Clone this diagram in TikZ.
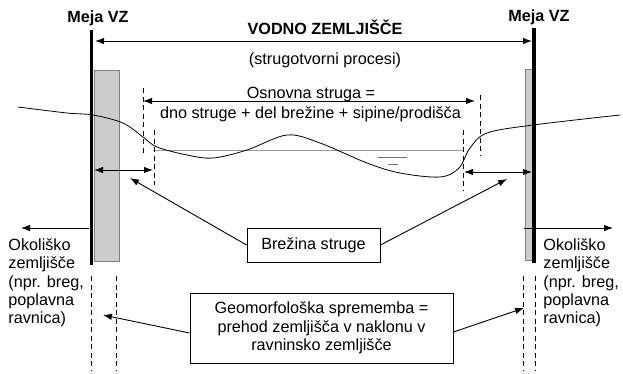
\documentclass[tikz,border=0pt]{standalone}
\usepackage{fontspec}
\setmainfont{Liberation Sans}
\usetikzlibrary{arrows.meta}

\begin{document}
\begin{tikzpicture}[x=1pt,y=-1pt,line width=0.9pt,>={Latex[length=9pt,width=6.5pt]},
    font=\fontsize{16.2}{18.4}\selectfont]
    \tikzstyle{bar}=[line width=3.6pt]
    \tikzstyle{bank}=[draw=gray,fill=gray!40,line width=0.6pt]
    \tikzstyle{limit}=[line width=0.8pt,dash pattern=on 5pt off 3.5pt]
    \tikzstyle{label}=[inner sep=0pt,anchor=base]
    \tikzstyle{box}=[draw,rectangle,line width=0.8pt,align=center,inner sep=0pt]
    \tikzstyle{annot}=[inner sep=0pt,anchor=north west,align=left]

    \useasboundingbox (0,0) rectangle (623,373);

    % Banks and boundaries of the water land
    \draw[bank] (94,70) rectangle (119,261);
    \draw[bank] (525,69) rectangle (532,260);
    \coordinate (lbar-top) at (91.5,30);
    \coordinate (lbar-bot) at (91.5,265);
    \coordinate (rbar-top) at (534,28);
    \coordinate (rbar-bot) at (534,263);
    \draw[bar] (lbar-top) -- (lbar-bot);
    \draw[bar] (rbar-top) -- (rbar-bot);

    % Ground profile and water level
    \draw[gray!80,line width=0.7pt] (153,150) -- (464,150);
    \draw[gray!90!black,line width=0.8pt] (378,157) -- (407,157) (388,164) -- (398,164);
    \draw[line width=0.8pt] plot[smooth,tension=0.55] coordinates {(18,107) (67,113) (93,115)
        (123,123) (143,137) (157,147) (187,155) (213,158) (247,150) (287,135) (320,143)
        (367,163) (400,173) (440,177) (459,168) (470,148) (487,133) (533,125) (620,115)};

    % Dashed limits
    \foreach \x/\ya/\yb in {143/88/155, 154/130/185, 480/95/155, 463/130/190,
                            91/276/370, 116/276/370, 523/276/370, 535/276/370}
        \draw[limit] (\x,\ya) -- (\x,\yb);

    % Labels at the top
    \node[label,font=\fontsize{16.2}{18.4}\selectfont\bfseries] (meja-l) at (98,22) {Meja VZ};
    \node[label,font=\fontsize{16.2}{18.4}\selectfont\bfseries] (meja-r) at (539,21) {Meja VZ};
    \node[label,font=\fontsize{16.2}{18.4}\selectfont\bfseries] (vz) at (325,34) {VODNO ZEMLJIŠČE};
    \node[label] (procesi) at (325,64) {(strugotvorni procesi)};
    \node[label] (osnovna) at (311,98) {Osnovna struga =};
    \node[label] (dno) at (310.5,118) {dno struge + del brežine + sipine/prodišča};

    % Widths
    \coordinate (vz-l) at (95,41);
    \coordinate (vz-r) at (532,41);
    \coordinate (os-l) at (143,101);
    \coordinate (os-r) at (475,101);
    \coordinate (br-l1) at (94,170);
    \coordinate (br-l2) at (153,170);
    \coordinate (br-r1) at (464,172);
    \coordinate (br-r2) at (532,172);
    \draw[<->] (vz-l) -- (vz-r);
    \draw[<->] (os-l) -- (os-r);
    \draw[<->] (br-l1) -- (br-l2);
    \draw[<->] (br-r1) -- (br-r2);

    % Surrounding land
    \coordinate (ok-l1) at (89,228);
    \coordinate (ok-l2) at (21,228);
    \coordinate (ok-r1) at (524,228);
    \coordinate (ok-r2) at (613,228);
    \draw[->] (ok-l1) -- (ok-l2);
    \draw[->] (ok-r1) -- (ok-r2);
    \node[annot] (okolica-l) at (8,238) {Okoliško\\zemljišče\\(npr. breg,\\poplavna\\ravnica)};
    \node[annot] (okolica-r) at (543,238) {Okoliško\\zemljišče\\(npr. breg,\\poplavna\\ravnica)};

    % Annotation boxes
    \node[box,minimum width=133pt,minimum height=34pt] (brezina) at (313.5,245) {Brežina struge};
    \node[box,minimum width=263pt,minimum height=70pt] (geo) at (321.5,328)
        {Geomorfološka sprememba =\\prehod zemljišča v naklonu v\\ravninsko zemljišče};

    \coordinate (br-tip-l) at (130,178);
    \coordinate (br-tip-r) at (507,179);
    \coordinate (geo-tip-l) at (103,315);
    \coordinate (geo-tip-r) at (524,308);
    \draw[->] (brezina.west) -- (br-tip-l);
    \draw[->] (brezina.east) -- (br-tip-r);
    \draw[->] ([yshift=-5pt]geo.west) -- (geo-tip-l);
    \draw[->] ([yshift=-4pt]geo.east) -- (geo-tip-r);
\end{tikzpicture}
\end{document}
